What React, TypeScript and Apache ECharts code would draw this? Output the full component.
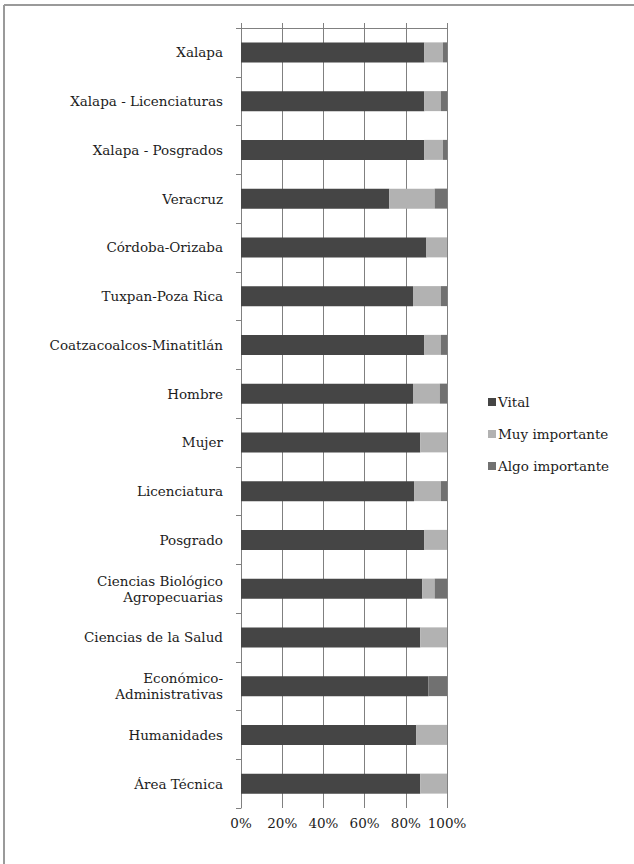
import React, { useEffect, useRef } from "react";
import * as echarts from "echarts";

const categories = [
  "Xalapa",
  "Xalapa - Licenciaturas",
  "Xalapa - Posgrados",
  "Veracruz",
  "Córdoba-Orizaba",
  "Tuxpan-Poza Rica",
  "Coatzacoalcos-Minatitlán",
  "Hombre",
  "Mujer",
  "Licenciatura",
  "Posgrado",
  "Ciencias Biológico\nAgropecuarias",
  "Ciencias de la Salud",
  "Económico-\nAdministrativas",
  "Humanidades",
  "Área Técnica",
];

const vital = [89, 89, 89, 72, 90, 83.5, 89, 83.5, 87, 84, 89, 88, 87, 91, 85, 87];
const muyImportante = [9, 8, 9, 22, 10, 13.5, 8, 13, 13, 13, 11, 6, 13, 0, 15, 13];
const algoImportante = [2, 3, 2, 6, 0, 3, 3, 3.5, 0, 3, 0, 6, 0, 9, 0, 0];

const seriesNames = ["Vital", "Muy importante", "Algo importante"];
const seriesColors = ["#454545", "#b2b2b2", "#717171"];
const tickValues = [0, 20, 40, 60, 80, 100];

const FONT = "DejaVu Serif";
const TEXT_COLOR = "#1c1c1c";

export default function App() {
  const ref = useRef<HTMLDivElement>(null);
  useEffect(() => {
    if (!ref.current) return;
    const chart = echarts.init(ref.current, null, { renderer: "svg" });
    const data = [vital, muyImportante, algoImportante];
    chart.setOption({
      animation: false,
      backgroundColor: "#ffffff",
      textStyle: { fontFamily: FONT },
      grid: { left: 241, top: 28, width: 206, height: 780, containLabel: false },
      legend: {
        orient: "vertical",
        left: 483,
        top: 389,
        itemWidth: 8,
        itemHeight: 8,
        itemGap: 16,
        icon: "rect",
        textStyle: {
          fontFamily: FONT,
          fontSize: 13.5,
          lineHeight: 16,
          color: TEXT_COLOR,
          padding: [0, 0, 0, -3],
        },
        data: seriesNames,
      },
      xAxis: [
        {
          type: "value",
          position: "top",
          min: 0,
          max: 100,
          interval: 20,
          axisLine: { show: true, onZero: false, lineStyle: { color: "#808080", width: 1 } },
          axisTick: { show: true, length: 5, lineStyle: { color: "#808080" } },
          axisLabel: { show: false },
          splitLine: { show: true, lineStyle: { color: "#808080", width: 1 } },
        },
        {
          type: "value",
          position: "bottom",
          min: 0,
          max: 100,
          interval: 20,
          axisLine: { show: false, onZero: false },
          axisTick: { show: false },
          splitLine: { show: false },
          axisLabel: {
            show: true,
            margin: 8,
            fontFamily: FONT,
            fontSize: 13.5,
            color: TEXT_COLOR,
            formatter: (v: number) => (tickValues.includes(v) ? v + "%" : ""),
          },
        },
      ],
      yAxis: {
        type: "category",
        inverse: true,
        data: categories,
        axisLine: { show: true, onZero: false, lineStyle: { color: "#808080" } },
        axisTick: { show: true, length: 5, lineStyle: { color: "#808080" } },
        axisLabel: {
          margin: 18,
          fontFamily: FONT,
          fontSize: 13.5,
          color: TEXT_COLOR,
          lineHeight: 16,
          align: "right",
        },
      },
      series: seriesNames.map((name, i) => ({
        name,
        type: "bar",
        stack: "total",
        xAxisIndex: 0,
        barWidth: 20,
        itemStyle: { color: seriesColors[i] },
        data: data[i],
      })),
      graphic: [
        {
          type: "line",
          shape: { x1: 4, y1: 5, x2: 634, y2: 5 },
          style: { stroke: "#9a9a9a", lineWidth: 2 },
        },
        {
          type: "line",
          shape: { x1: 4, y1: 5, x2: 4, y2: 864 },
          style: { stroke: "#9a9a9a", lineWidth: 2 },
        },
        {
          type: "line",
          shape: { x1: 236, y1: 28.5, x2: 447, y2: 28.5 },
          style: { stroke: "#808080", lineWidth: 1 },
          z: 10,
        },
      ],
    });
    return () => chart.dispose();
  }, []);
  return <div ref={ref} style={{ width: 634, height: 864, position: "fixed", left: 0, top: 0 }} />;
}
